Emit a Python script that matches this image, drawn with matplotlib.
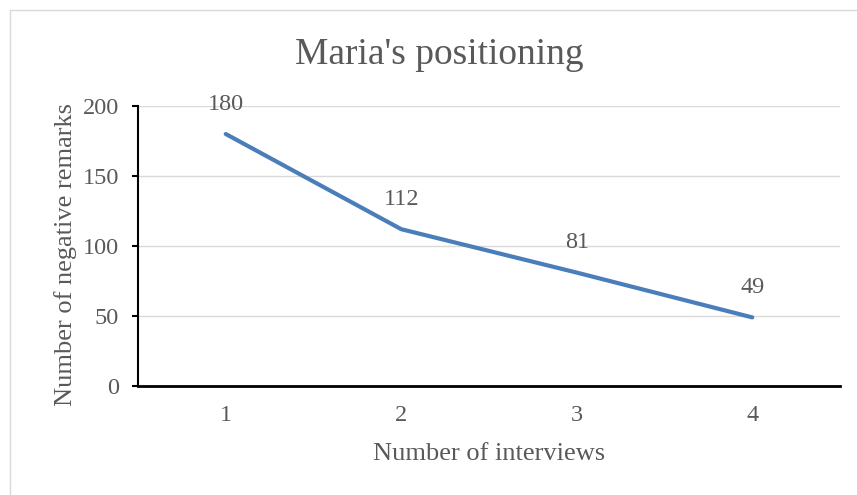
import matplotlib.pyplot as plt
import matplotlib.patches as mpatches

# data
interviews = [1, 2, 3, 4]
remarks = [180, 112, 81, 49]
y_ticks = [0, 50, 100, 150, 200]

txt_col = '#595959'
plt.rcParams['font.family'] = ['Liberation Serif', 'DejaVu Serif']

fig = plt.figure(figsize=(8.57, 4.95), dpi=100)
ax = fig.add_axes([138/857, 1 - 386/495, (840-138)/857, (386-106)/495])

# chart frame (only top and left edge are inside the picture)
fig.patches.append(mpatches.Rectangle((10/857, -5/495), (870-10)/857, (485+5)/495,
                                      transform=fig.transFigure, fill=False,
                                      edgecolor='#d9d9d9', linewidth=1))

ax.plot(interviews, remarks, color='#4a7ebb', linewidth=3, solid_capstyle='round')
for x, y in zip(interviews, remarks):
    ax.annotate(str(y), (x, y), xytext=(0, 21.5), textcoords='offset points',
                ha='center', va='center', fontsize=17.5, color=txt_col)

ax.set_xlim(0.5, 4.5)
ax.set_ylim(0, 200)
ax.set_xticks(interviews)
ax.set_yticks(y_ticks)
ax.yaxis.grid(True, color='#d9d9d9', linewidth=1)
ax.set_axisbelow(True)
for s in ['top', 'right']:
    ax.spines[s].set_visible(False)
ax.spines['left'].set_linewidth(1.5)
ax.spines['bottom'].set_linewidth(2)
ax.tick_params(axis='x', length=0, pad=14, labelsize=17.5, labelcolor=txt_col)
ax.tick_params(axis='y', length=4.5, width=1.5, pad=9, labelsize=17.5, labelcolor=txt_col)

ax.set_xlabel('Number of interviews', fontsize=19, color=txt_col, labelpad=12)
ax.set_ylabel('Number of negative remarks', fontsize=19, color=txt_col, labelpad=4)
ax.yaxis.label.set_y(0.468)
fig.text(439/857, 1 - 55/495, "Maria's positioning", ha='center', va='center',
         fontsize=27, color=txt_col)

plt.savefig('out.png', dpi=100)
